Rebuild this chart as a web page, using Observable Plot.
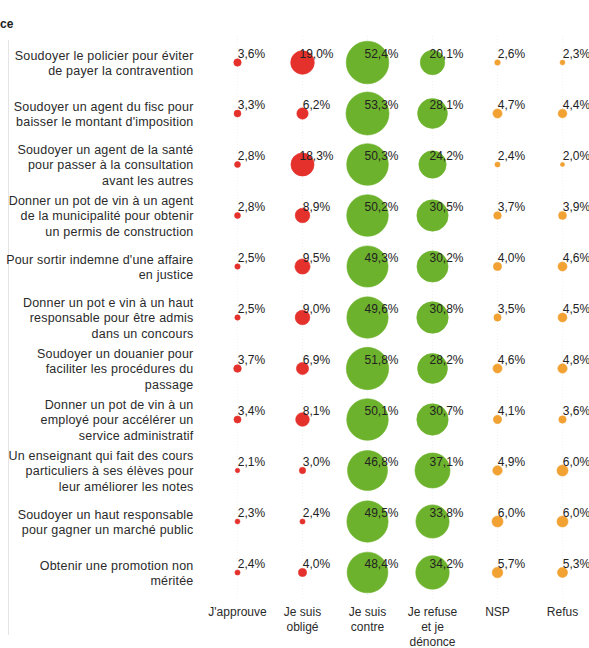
<!DOCTYPE html>
<html>
<head>
<meta charset="utf-8">
<script src="https://cdn.jsdelivr.net/npm/d3@7"></script>
<script src="https://cdn.jsdelivr.net/npm/@observablehq/plot@0.6"></script>
<style>
  html, body { margin: 0; padding: 0; background: #fff; }
  body { width: 589px; height: 648px; position: relative; overflow: hidden; font-family: "Liberation Sans", Arial, sans-serif; }
  #title { position: absolute; left: 0; top: 17px; font-size: 12px; font-weight: bold; color: #222; }
  #rule { position: absolute; left: 8px; top: 40px; width: 0; height: 595px; border-left: 1px solid #e4e4e4; }
  #chart { position: absolute; left: 0; top: 0; }
  .rowlab text { letter-spacing: 0.2px; }
</style>
</head>
<body>
<div id="title">ce</div>
<div id="rule"></div>
<div id="chart"></div>
<script>
const categories = ["J'approuve", "Je suis obligé", "Je suis contre", "Je refuse et je dénonce", "NSP", "Refus"];
const categoryLabels = ["J'approuve", "Je suis\nobligé", "Je suis\ncontre", "Je refuse\net je\ndénonce", "NSP", "Refus"];
const categoryColors = ["#e5312b", "#e5312b", "#6db22c", "#6db22c", "#f1a233", "#f1a233"];

const situations = [
  "Soudoyer le policier pour éviter\nde payer la contravention",
  "Soudoyer un agent du fisc pour\nbaisser le montant d'imposition",
  "Soudoyer un agent de la santé\npour passer à la consultation\navant les autres",
  "Donner un pot de vin à un agent\nde la municipalité pour obtenir\nun permis de construction",
  "Pour sortir indemne d'une affaire\nen justice",
  "Donner un pot e vin à un haut\nresponsable pour être admis\ndans un concours",
  "Soudoyer un douanier pour\nfaciliter les procédures du\npassage",
  "Donner un pot de vin à un\nemployé pour accélérer un\nservice administratif",
  "Un enseignant qui fait des cours\nparticuliers à ses élèves pour\nleur améliorer les notes",
  "Soudoyer un haut responsable\npour gagner un marché public",
  "Obtenir une promotion non\nméritée"
];

const approuve = [3.6, 3.3, 2.8, 2.8, 2.5, 2.5, 3.7, 3.4, 2.1, 2.3, 2.4];
const oblige   = [19.0, 6.2, 18.3, 8.9, 9.5, 9.0, 6.9, 8.1, 3.0, 2.4, 4.0];
const contre   = [52.4, 53.3, 50.3, 50.2, 49.3, 49.6, 51.8, 50.1, 46.8, 49.5, 48.4];
const refuse   = [20.1, 28.1, 24.2, 30.5, 30.2, 30.8, 28.2, 30.7, 37.1, 33.8, 34.2];
const nsp      = [2.6, 4.7, 2.4, 3.7, 4.0, 3.5, 4.6, 4.1, 4.9, 6.0, 5.7];
const refus    = [2.3, 4.4, 2.0, 3.9, 4.6, 4.5, 4.8, 3.6, 6.0, 6.0, 5.3];

const series = [approuve, oblige, contre, refuse, nsp, refus];
const data = [];
situations.forEach((s, i) => {
  categories.forEach((c, j) => {
    data.push({situation: s, category: c, value: series[j][i], color: categoryColors[j]});
  });
});
const fmt = v => v.toFixed(1).replace(".", ",") + "%";

const chart = Plot.plot({
  width: 589,
  height: 648,
  marginTop: 36,
  marginBottom: 49,
  marginLeft: 193,
  marginRight: 0,
  style: {fontFamily: "'Liberation Sans', Arial, sans-serif", fontSize: "12px", color: "#222", background: "transparent"},
  x: {type: "point", domain: categories, range: [237, 562], padding: 0, axis: null},
  y: {type: "point", domain: situations, range: [60, 573], padding: 0, axis: null},
  r: {type: "sqrt", domain: [1.5, 53.3], range: [1.5, 21.5]},
  marks: [
    Plot.gridY(situations, {stroke: "#ececec", strokeOpacity: 1, strokeDasharray: "1,2", x1: 205, x2: 589}),
    Plot.gridX(categories, {stroke: "#f2f2f2", strokeOpacity: 1, strokeDasharray: "1,2"}),
    Plot.dot(data, {
      x: "category", y: "situation", r: "value",
      fill: d => d.color, stroke: d => d.color, strokeWidth: 1, strokeOpacity: 0.6
    }),
    Plot.text(data, {
      x: "category", y: "situation", text: d => fmt(d.value),
      dx: 14, dy: -8, textAnchor: "middle", fill: "#222", fontSize: 12
    }),
    Plot.text(situations, {
      y: d => d, text: d => d, frameAnchor: "left", textAnchor: "end",
      lineHeight: 1.22, fill: "#2a2a2a", fontSize: 12.5, className: "rowlab"
    }),
    Plot.text(categories, {
      x: d => d, text: (d, i) => categoryLabels[i], frameAnchor: "bottom",
      lineAnchor: "top", dy: 6, lineHeight: 1.25, fill: "#2a2a2a", fontSize: 12
    })
  ]
});
document.getElementById("chart").appendChild(chart);
</script>
</body>
</html>
